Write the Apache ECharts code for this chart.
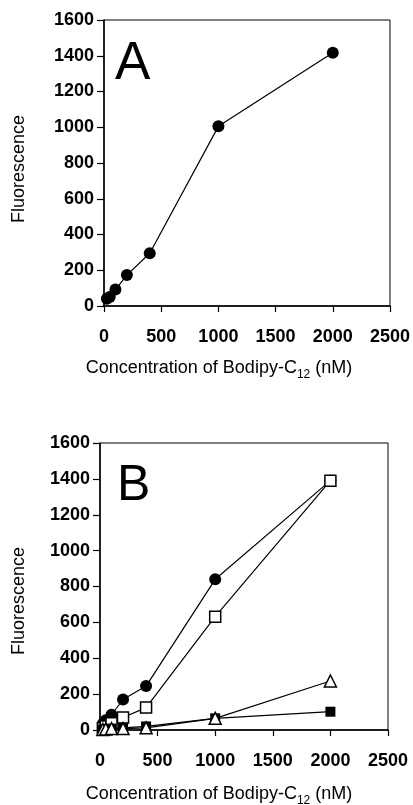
<!DOCTYPE html>
<html>
<head>
<meta charset="utf-8">
<script src="https://cdn.jsdelivr.net/npm/echarts@6/dist/echarts.min.js"></script>
<style>
html,body{margin:0;padding:0;background:#fff;}
#chart{width:413px;height:805px;}
</style>
</head>
<body>
<div id="chart"></div>
<script>
// ---- data ----
const concentration = [25, 50, 100, 200, 400, 1000, 2000];          // nM
const fluorA        = [40, 50, 92, 173, 295, 1005, 1417];
const bFilledCircle = [35, 55, 85, 170, 245, 840, 1390];
const bOpenSquare   = [10, 20, 37, 70, 125, 632, 1390];
const bFilledSquare = [3, 5, 8, 12, 20, 65, 102];
const bOpenTriangle = [3, 5, 8, 8, 12, 65, 273];
const xTicks = [0, 500, 1000, 1500, 2000, 2500];
const yTicks = [0, 200, 400, 600, 800, 1000, 1200, 1400, 1600];
const panelLabels = ['A', 'B'];
const yTitle = 'Fluorescence';
const xTitleMain = 'Concentration of Bodipy-C';
const xTitleSub = '12';
const xTitleEnd = ' (nM)';

const pairs = (xs, ys) => xs.map((x, i) => [x, ys[i]]);
const FONT = 'Liberation Sans, Arial, Helvetica, sans-serif';

const chart = echarts.init(document.getElementById('chart'), null, {renderer: 'canvas'});

const grids = [
  {left: 104, top: 20, width: 286, height: 286},
  {left: 100, top: 443, width: 288, height: 287}
];

function xAxisFor(i) {
  return {
    type: 'value', gridIndex: i,
    min: xTicks[0], max: xTicks[xTicks.length - 1], interval: xTicks[1] - xTicks[0],
    axisLine: {show: true, onZero: false, lineStyle: {color: '#000', width: 1.5}},
    axisTick: {show: true, inside: false, length: 6, lineStyle: {color: '#000', width: 1.2}},
    axisLabel: {color: '#000', fontFamily: FONT, fontWeight: 'bold', fontSize: 18, margin: 22,
                formatter: v => String(v)},
    splitLine: {show: false}
  };
}
function yAxisFor(i) {
  return {
    type: 'value', gridIndex: i,
    min: yTicks[0], max: yTicks[yTicks.length - 1], interval: yTicks[1] - yTicks[0],
    axisLine: {show: true, onZero: false, lineStyle: {color: '#000', width: 1.5}},
    axisTick: {show: true, inside: false, length: 7, lineStyle: {color: '#000', width: 1.2}},
    axisLabel: {color: '#000', fontFamily: FONT, fontWeight: 'bold', fontSize: 18, margin: 10,
                formatter: v => String(v)},
    splitLine: {show: false}
  };
}

function lineSeries(gi, ys, symbol, size, filled, z) {
  return {
    type: 'line', xAxisIndex: gi, yAxisIndex: gi,
    data: pairs(concentration, ys),
    symbol: symbol, symbolSize: size, showAllSymbol: true,
    lineStyle: {color: '#000', width: 1.2},
    itemStyle: {color: filled ? '#000' : '#fff', borderColor: '#000', borderWidth: filled ? 0 : 1.5, opacity: 1},
    z: z,
    animation: false
  };
}

function xTitle(cx, cy) {
  return {
    type: 'text', x: cx, y: cy, silent: true,
    style: {
      text: '{m|' + xTitleMain + '}{s|' + xTitleSub + '}{m|' + xTitleEnd + '}',
      align: 'center', verticalAlign: 'middle', fill: '#000',
      rich: {
        m: {fontFamily: FONT, fontSize: 18, lineHeight: 26, fill: '#000', verticalAlign: 'middle'},
        s: {fontFamily: FONT, fontSize: 12, fill: '#000', verticalAlign: 'bottom'}
      }
    }
  };
}
function yTitleEl(cx, cy) {
  return {
    type: 'text', x: cx, y: cy, rotation: Math.PI / 2, silent: true,
    style: {text: yTitle, align: 'center', verticalAlign: 'middle', fill: '#000',
            fontFamily: FONT, fontSize: 18}
  };
}
function panelEl(txt, x, y, size) {
  return {
    type: 'text', x: x, y: y, silent: true,
    style: {text: txt, align: 'left', verticalAlign: 'middle', fill: '#000',
            fontFamily: FONT, fontSize: size}
  };
}

const option = {
  animation: false,
  backgroundColor: '#fff',
  grid: grids.map(g => Object.assign({show: true, borderColor: '#000', borderWidth: 1, backgroundColor: 'transparent'}, g)),
  xAxis: [xAxisFor(0), xAxisFor(1)],
  yAxis: [yAxisFor(0), yAxisFor(1)],
  series: [
    lineSeries(0, fluorA, 'circle', 12, true, 3),
    lineSeries(1, bFilledCircle, 'circle', 12, true, 3),
    lineSeries(1, bOpenSquare, 'rect', 11, false, 4),
    lineSeries(1, bFilledSquare, 'rect', 10, true, 5),
    lineSeries(1, bOpenTriangle, 'triangle', 12, false, 6)
  ],
  graphic: [
    panelEl(panelLabels[0], 115, 64, 53),
    panelEl(panelLabels[1], 117, 486, 50),
    yTitleEl(19, 169),
    yTitleEl(19, 601),
    xTitle(219, 368),
    xTitle(219, 794)
  ]
};
chart.setOption(option);
</script>
</body>
</html>
